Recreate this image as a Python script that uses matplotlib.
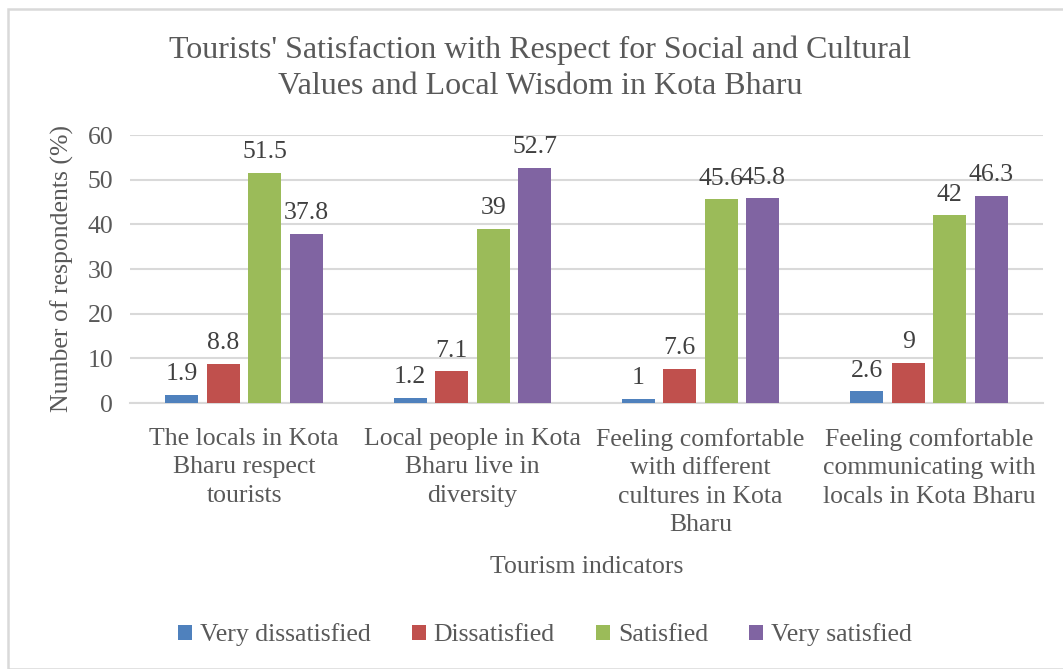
import matplotlib
matplotlib.use("Agg")
import matplotlib.pyplot as plt
import numpy as np
from matplotlib.patches import Rectangle

categories = ["The locals in Kota\nBharu respect\ntourists",
              "Local people in Kota\nBharu live in\ndiversity",
              "Feeling comfortable\nwith different\ncultures in Kota\nBharu",
              "Feeling comfortable\ncommunicating with\nlocals in Kota Bharu"]
series_names = ["Very dissatisfied", "Dissatisfied", "Satisfied", "Very satisfied"]
very_dissatisfied = [1.9, 1.2, 1, 2.6]
dissatisfied = [8.8, 7.1, 7.6, 9]
satisfied = [51.5, 39, 45.6, 42]
very_satisfied = [37.8, 52.7, 45.8, 46.3]
series_values = [very_dissatisfied, dissatisfied, satisfied, very_satisfied]
colors = ["#4F81BD", "#C0504D", "#9BBB59", "#8064A2"]
yticks = [0, 10, 20, 30, 40, 50, 60]

plt.rcParams['font.family'] = ['Liberation Serif', 'DejaVu Serif']
TXT = "#595959"

W, H = 1063, 669
fig = plt.figure(figsize=(W / 100, H / 100), dpi=100)
ax = fig.add_axes([130 / W, 1 - 403 / H, (1043 - 130) / W, (403 - 135) / H])

# chart border
fig.patches.append(Rectangle((8 / W, 0.0), 1.2, 1 - 9 / H, transform=fig.transFigure,
                             fill=False, edgecolor="#D9D9D9", linewidth=1.8))

x = np.arange(len(categories))
bw = 0.145
step = 0.182
for i, (name, vals, c) in enumerate(zip(series_names, series_values, colors)):
    pos = x + (i - 1.5) * step
    ax.bar(pos, vals, width=bw, color=c, label=name, zorder=3)
    for p, v in zip(pos, vals):
        ax.annotate(f"{v:g}", (p, v), xytext=(0, 7), textcoords="offset points",
                    ha="center", va="bottom", fontsize=18.5, color="#404040", zorder=4)

ax.set_xlim(-0.5, len(categories) - 0.5)
ax.set_ylim(0, 60)
ax.set_yticks(yticks)
ax.set_xticks(x)
ax.set_xticklabels(categories, fontsize=18.5, color=TXT, linespacing=1.38)
ax.tick_params(axis="y", labelsize=18.5, labelcolor=TXT, length=0, pad=12)
ax.tick_params(axis="x", length=0, pad=18)
ax.grid(axis="y", color="#D9D9D9", linewidth=1.5, zorder=0)
for s in ["top", "right", "left"]:
    ax.spines[s].set_visible(False)
ax.spines["bottom"].set_color("#D9D9D9")
ax.spines["bottom"].set_linewidth(1.5)

ax.set_ylabel("Number of respondents (%)", fontsize=18.5, color=TXT, labelpad=10)
ax.set_xlabel("Tourism indicators", fontsize=18.5, color=TXT, labelpad=14)

fig.text(540 / W, 1 - 68 / H,
         "Tourists' Satisfaction with Respect for Social and Cultural\nValues and Local Wisdom in Kota Bharu",
         ha="center", va="center", fontsize=23, color=TXT, linespacing=1.3)

leg = fig.legend(loc="center", bbox_to_anchor=(545 / W, 1 - 635 / H), ncol=4, frameon=False,
                 fontsize=18.5, handlelength=0.55, handleheight=0.55, handletextpad=0.3,
                 columnspacing=1.6)
for t in leg.get_texts():
    t.set_color(TXT)

fig.savefig("out.png", dpi=100)
